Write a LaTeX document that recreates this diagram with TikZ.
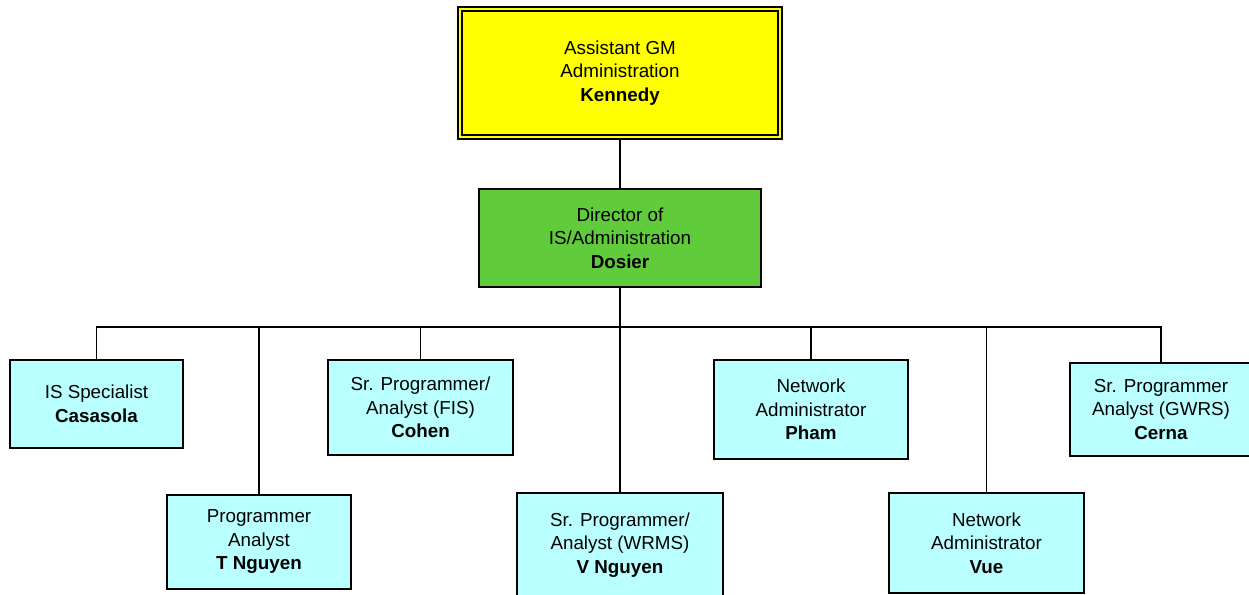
\documentclass[tikz,border=0pt]{standalone}
\usepackage{fontspec}
\setmainfont{Liberation Sans}
\begin{document}
\begin{tikzpicture}[x=1pt,y=-1pt,
  box/.style={draw=black,line width=1.4pt,inner sep=0pt,align=center,
    font=\fontsize{18.8}{23.5}\selectfont},
  staff/.style={box,fill=cyanbox},
  link/.style={draw=black,line width=1.5pt}]
\definecolor{cyanbox}{RGB}{186,255,255}
\definecolor{greenbox}{RGB}{96,204,60}
\definecolor{yellowbox}{RGB}{255,255,0}
\useasboundingbox (0,0) rectangle (1249,594);

% boxes, placed by centre and size in pixels
\node[box,fill=yellowbox,minimum width=324pt,minimum height=132pt] (agm) at (620,73)
  {Assistant GM\\Administration\\\textbf{Kennedy}};
\draw[line width=1.9pt] ([shift={(4.5pt,-4.5pt)}]agm.north west) rectangle ([shift={(-4.5pt,4.5pt)}]agm.south east);

\node[box,fill=greenbox,minimum width=282pt,minimum height=98pt] (dir) at (620,238)
  {Director of\\IS/Administration\\\textbf{Dosier}};

\node[staff,minimum width=173pt,minimum height=88pt] (cas) at (96.5,404)
  {IS Specialist\\\textbf{Casasola}};
\node[staff,minimum width=184pt,minimum height=94pt] (tng) at (259,542)
  {Programmer\\Analyst\\\textbf{T Nguyen}};
\node[staff,minimum width=185pt,minimum height=95pt] (coh) at (420.5,407.5)
  {Sr. Programmer/\\Analyst (FIS)\\\textbf{Cohen}};
\node[staff,minimum width=206pt,minimum height=104pt] (vng) at (620,545)
  {Sr. Programmer/\\Analyst (WRMS)\\\textbf{V Nguyen}};
\node[staff,minimum width=194pt,minimum height=99pt] (pha) at (811,409.5)
  {Network\\Administrator\\\textbf{Pham}};
\node[staff,minimum width=195pt,minimum height=100pt] (vue) at (986.5,543)
  {Network\\Administrator\\\textbf{Vue}};
\node[staff,minimum width=182pt,minimum height=93pt] (cer) at (1161,409.5)
  {Sr. Programmer\\Analyst (GWRS)\\\textbf{Cerna}};

\coordinate (bus) at (620,327);

% reporting lines
\draw[link] (agm.south) -- (dir.north);
\draw[link] (dir.south) -- (vng.north);
\draw[link] (cas.north) -- (cas.north |- bus) -- (cer.north |- bus) -- (cer.north);
\draw[link,line width=2pt] (tng.north |- bus) -- (vue.north |- bus);
\draw[link] (tng.north) -- (tng.north |- bus);
\draw[link] (vue.north) -- (vue.north |- bus);
\draw[link] (coh.north) -- (coh.north |- bus);
\draw[link] (pha.north) -- (pha.north |- bus);
\end{tikzpicture}
\end{document}
